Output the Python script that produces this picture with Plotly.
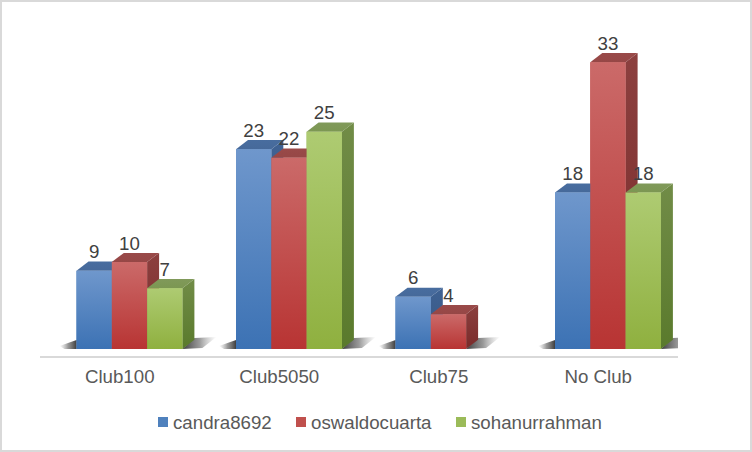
import plotly.graph_objects as go

categories = ["Club100", "Club5050", "Club75", "No Club"]
candra8692 = [9, 23, 6, 18]
oswaldocuarta = [10, 22, 4, 33]
sohanurrahman = [7, 25, None, 18]
series_names = ["candra8692", "oswaldocuarta", "sohanurrahman"]

W, H = 752, 452
L, R, T, B = 40, 74, 20, 96
PX_X = (W - L - R) / 4.0       # px per category
PX_Y = 8.69                    # px per value unit
Y_MIN = -7 / PX_Y
Y_MAX = (H - B - T) / PX_Y + Y_MIN
BAR_W = 35.3 / PX_X
GROUP_LEFT = -43.25 / PX_X
DX = 12 / PX_X
DY = 9.2 / PX_Y
LABEL_UP = 17.2 / PX_Y
FONT = "Liberation Sans"
TEXT_SIZE = 18.7

# gradient stops listed bottom colour first, top colour second
styles = [
    dict(front=("#3c72b4", "#6f97cc"), side=("#355683", "#3f6293"), top=("#46699a", "#486d9f"), solid="#4f81bd"),
    dict(front=("#b83433", "#cb6a69"), side=("#7a2b2a", "#8c403f"), top=("#964746", "#994a49"), solid="#c0504d"),
    dict(front=("#8fb03f", "#aecb72"), side=("#5a7a2c", "#718c47"), top=("#7c9752", "#80995a"), solid="#9bbb59"),
]
values = [candra8692, oswaldocuarta, sohanurrahman]

fig = go.Figure()


def poly(xs, ys, stops, kind="vertical"):
    scale = [[k / (len(stops) - 1), c] for k, c in enumerate(stops)]
    fig.add_trace(go.Scatter(
        x=xs + xs[:1], y=ys + ys[:1], mode="lines", fill="toself",
        line=dict(width=0), hoverinfo="skip", showlegend=False,
        fillcolor=stops[0],
        fillgradient=dict(type=kind, colorscale=scale),
    ))


# base bars, one per series
for i, (name, vals) in enumerate(zip(series_names, values)):
    fig.add_trace(go.Bar(
        x=list(range(len(categories))), y=vals, name=name,
        width=BAR_W, offset=GROUP_LEFT + i * BAR_W,
        marker=dict(color=styles[i]["solid"], line=dict(width=0)), showlegend=False,
    ))

# ground shadows, derived from each group's extent
SHADOW = "rgba(40,40,40,0.9)"
MID = "rgba(70,70,70,0.55)"
CLEAR = "rgba(130,130,130,0)"
for c in range(len(categories)):
    present = [i for i in range(3) if values[i][c] is not None]
    left = c + GROUP_LEFT
    right = c + GROUP_LEFT + (max(present) + 1) * BAR_W
    px, py = 1 / PX_X, 1 / PX_Y
    poly([left - 17 * px, left, left, left - 12 * px],
         [3 * py, 9 * py, 0, 0],
         (CLEAR, MID, SHADOW), "horizontal")
    poly([right, right + 12 * px, right + 34 * px, right + 20 * px],
         [0, 11 * py, 12 * py, 1 * py],
         (SHADOW, MID, CLEAR), "horizontal")

# faces, painted left to right so nearer bars hide farther ones
for c in range(len(categories)):
    for i in range(3):
        v = values[i][c]
        if v is None:
            continue
        x0 = c + GROUP_LEFT + i * BAR_W
        x1 = x0 + BAR_W
        s = styles[i]
        poly([x0, x0 + DX, x1 + DX, x1], [v, v + DY, v + DY, v], s["top"])
        poly([x1, x1 + DX, x1 + DX, x1], [0, DY, v + DY, v], s["side"])
        poly([x0, x1, x1, x0], [0, 0, v, v], s["front"])

# value labels
lx, ly, lt = [], [], []
for i in range(3):
    for c, v in enumerate(values[i]):
        if v is None:
            continue
        lx.append(c + GROUP_LEFT + (i + 0.5) * BAR_W)
        ly.append(v + LABEL_UP)
        lt.append(str(v))
fig.add_trace(go.Scatter(
    x=lx, y=ly, text=lt, mode="text", textposition="middle center",
    textfont=dict(family=FONT, size=TEXT_SIZE, color="#404040"),
    hoverinfo="skip", showlegend=False,
))

# legend row, paper coordinates derived from pixels
pw, ph = W - L - R, H - T - B
def px2x(p): return (p - L) / pw
def px2y(p): return (H - B - p) / ph

shapes = [dict(type="rect", xref="paper", yref="paper",
               x0=px2x(1), x1=px2x(W - 1), y0=px2y(H - 1), y1=px2y(1),
               line=dict(color="#d9d9d9", width=2), fillcolor="rgba(0,0,0,0)", layer="below")]
annotations = []
for name, s, sq in zip(series_names, styles, [158, 296, 456]):
    shapes.append(dict(type="rect", xref="paper", yref="paper",
                       x0=px2x(sq), x1=px2x(sq + 10), y0=px2y(427), y1=px2y(417),
                       line=dict(width=0), fillcolor=s["solid"]))
    annotations.append(dict(xref="paper", yref="paper", x=px2x(sq + 12.5), y=px2y(422),
                            text=name, showarrow=False, xanchor="left", yanchor="middle",
                            font=dict(family=FONT, size=TEXT_SIZE, color="#595959")))

fig.update_layout(
    width=W, height=H, margin=dict(l=L, r=R, t=T, b=B, pad=0),
    paper_bgcolor="white", plot_bgcolor="white", showlegend=False,
    barmode="overlay", shapes=shapes, annotations=annotations,
    font=dict(family=FONT, size=TEXT_SIZE, color="#595959"),
    xaxis=dict(range=[-0.5, 3.5], tickmode="array", tickvals=list(range(4)), ticktext=categories,
               showgrid=False, zeroline=False, showline=True, linecolor="#d9d9d9", linewidth=2,
               ticks="", ticklabelstandoff=3, tickfont=dict(family=FONT, size=TEXT_SIZE, color="#595959")),
    yaxis=dict(range=[Y_MIN, Y_MAX], visible=False),
)

fig.write_html("out.html", config=dict(displayModeBar=False),
               post_script="document.body.style.margin='0';document.body.style.overflow='hidden';")
